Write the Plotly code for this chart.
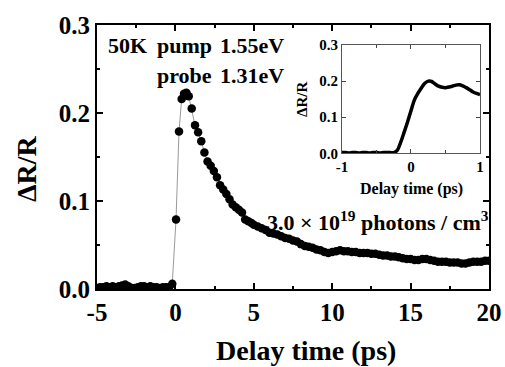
import plotly.graph_objects as go

# ---- main trace: delay (ps) vs dR/R ----
main_x = [-5.0, -4.8, -4.6, -4.4, -4.2, -4.0, -3.8, -3.6, -3.4, -3.2, -3.0, -2.8,
          -2.6, -2.4, -2.2, -2.0, -1.8, -1.6, -1.4, -1.2, -1.0, -0.8, -0.6, -0.4,
          -0.2, 0.04, 0.23, 0.40, 0.55, 0.70, 0.85, 1.04, 1.25, 1.45, 1.65, 1.85,
          2.05, 2.25, 2.45, 2.65, 2.85, 3.05, 3.25, 3.45, 3.65, 3.85, 4.05, 4.25,
          4.45, 4.65, 4.85,
          5.00, 5.25, 5.50, 5.75, 6.00, 6.25, 6.50, 6.75, 7.00, 7.25, 7.50, 7.75,
          8.00, 8.25, 8.50, 8.75, 9.00, 9.25, 9.50, 9.75, 10.00, 10.25, 10.50, 10.75,
          11.00, 11.25, 11.50, 11.75, 12.00, 12.25, 12.50, 12.75, 13.00, 13.25, 13.50,
          13.75, 14.00, 14.25, 14.50, 14.75, 15.00, 15.25, 15.50, 15.75, 16.00, 16.25,
          16.50, 16.75, 17.00, 17.25, 17.50, 17.75, 18.00, 18.25, 18.50, 18.75, 19.00,
          19.25, 19.50, 19.75, 20.00]
main_y = [0.001, 0.002, 0.002, 0.003, 0.002, 0.003, 0.002, 0.003, 0.004, 0.005, 0.003, 0.001,
          0.001, 0.002, 0.003, 0.003, 0.002, 0.003, 0.002, 0.002, 0.001, 0.002, 0.002, 0.002,
          0.006, 0.079, 0.179, 0.216, 0.222, 0.223, 0.219, 0.205, 0.186, 0.178, 0.168, 0.155,
          0.145, 0.140, 0.134, 0.127, 0.118, 0.113, 0.108, 0.102, 0.096, 0.093, 0.090, 0.087,
          0.079, 0.077, 0.075,
          0.073, 0.071, 0.069, 0.067, 0.064, 0.063, 0.062, 0.060, 0.058, 0.057, 0.055, 0.054,
          0.051, 0.049, 0.048, 0.047, 0.045, 0.044, 0.042, 0.041, 0.042, 0.043, 0.044, 0.043,
          0.043, 0.042, 0.042, 0.041, 0.041, 0.041, 0.040, 0.040, 0.039, 0.038, 0.038,
          0.037, 0.037, 0.036, 0.035, 0.034, 0.034, 0.033, 0.033, 0.034, 0.034, 0.033,
          0.032, 0.031, 0.031, 0.031, 0.030, 0.030, 0.030, 0.029, 0.029, 0.030, 0.031,
          0.031, 0.031, 0.032, 0.032]

# ---- inset trace ----
inset_x = [-1.00, -0.95, -0.90, -0.85, -0.80, -0.75, -0.70, -0.65, -0.60, -0.55, -0.50,
           -0.45, -0.40, -0.35, -0.30, -0.25, -0.20, -0.15, -0.10, -0.05, 0.00, 0.05,
           0.10, 0.15, 0.20, 0.25, 0.30, 0.35, 0.40, 0.45, 0.50, 0.55, 0.60, 0.65,
           0.70, 0.75, 0.80, 0.85, 0.90, 0.95, 1.00]
inset_y = [0.002, 0.002, 0.001, 0.002, 0.002, 0.001, 0.002, 0.002, 0.001, 0.002, 0.002,
           0.001, 0.002, 0.002, 0.002, 0.002, 0.008, 0.030, 0.058, 0.087, 0.118, 0.148,
           0.166, 0.181, 0.194, 0.200, 0.199, 0.192, 0.186, 0.183, 0.182, 0.184, 0.186, 0.189,
           0.190, 0.187, 0.182, 0.176, 0.170, 0.166, 0.163]

main_xticks = [-5, 0, 5, 10, 15, 20]
main_yticks = [0.0, 0.1, 0.2, 0.3]
inset_xticks = [-1, 0, 1]
inset_yticks = [0.0, 0.1, 0.2, 0.3]

FONT = "Liberation Serif"

fig = go.Figure()
fig.add_trace(go.Scatter(
    x=main_x, y=main_y, mode="lines+markers",
    line=dict(color="#9a9a9a", width=1),
    marker=dict(color="black", size=8.5),
    xaxis="x", yaxis="y", showlegend=False))
fig.add_trace(go.Scatter(
    x=inset_x, y=inset_y, mode="lines",
    line=dict(color="black", width=3.5, shape="spline"),
    xaxis="x2", yaxis="y2", showlegend=False))

tickfont_main = dict(family=FONT, size=25, color="black", weight="bold")
tickfont_inset = dict(family=FONT, size=15, color="black", weight="bold")

fig.update_layout(
    template="none",
    width=505, height=367,
    margin=dict(l=97, r=16, t=25, b=78, autoexpand=False),
    paper_bgcolor="white", plot_bgcolor="white",
    font=dict(family=FONT, color="black"),
    xaxis=dict(range=[-5, 20], tickvals=main_xticks, ticktext=[str(v) for v in main_xticks],
               ticks="inside", ticklen=6, tickwidth=1.5, tickcolor="black",
               showline=True, linewidth=2, linecolor="black", mirror="ticks",
               showgrid=False, zeroline=False, tickfont=tickfont_main, automargin=False,
               minor=dict(ticks="inside", ticklen=3, tickwidth=1.5, tickcolor="black",
                          dtick=2.5, tick0=-5, showgrid=False)),
    yaxis=dict(range=[0, 0.3], tickvals=main_yticks, ticktext=["%.1f" % v for v in main_yticks],
               ticks="inside", ticklen=6, tickwidth=1.5, tickcolor="black",
               showline=True, linewidth=2, linecolor="black", mirror="ticks",
               showgrid=False, zeroline=False, tickfont=tickfont_main, automargin=False,
               minor=dict(ticks="inside", ticklen=3, tickwidth=1.5, tickcolor="black",
                          dtick=0.05, tick0=0, showgrid=False)),
    xaxis2=dict(domain=[0.625, 0.977], anchor="y2", range=[-1, 1],
                tickvals=inset_xticks, ticktext=[str(v) for v in inset_xticks],
                ticks="inside", ticklen=4, tickwidth=1, tickcolor="#444",
                showline=True, linewidth=1.2, linecolor="#555", mirror="ticks",
                showgrid=False, zeroline=False, tickfont=tickfont_inset, automargin=False,
                minor=dict(ticks="inside", ticklen=3, tickwidth=1, tickcolor="#444",
                           dtick=0.5, tick0=-1, showgrid=False)),
    yaxis2=dict(domain=[0.514, 0.924], anchor="x2", range=[0, 0.3],
                tickvals=inset_yticks, ticktext=["%.1f" % v for v in inset_yticks],
                ticks="inside", ticklen=4, tickwidth=1, tickcolor="#444",
                showline=True, linewidth=1.2, linecolor="#555", mirror="ticks",
                showgrid=False, zeroline=False, tickfont=tickfont_inset, automargin=False),
)

def ann(text, x, y, size, xanchor="left", xref="x", yref="y", angle=0):
    fig.add_annotation(text="<b>%s</b>" % text, x=x, y=y, xref=xref, yref=yref,
                       xanchor=xanchor, yanchor="middle", showarrow=False,
                       textangle=angle, font=dict(family=FONT, size=size, color="black"))

def px2x(px):
    return (px - 97) / 392 * 25 - 5

def py2y(py):
    return (289 - py) / 264 * 0.3

ann("50K", px2x(106), py2y(45), 22)
ann("pump", px2x(155), py2y(45), 22)
ann("1.55eV", px2x(218), py2y(45), 22)
ann("probe", px2x(155), py2y(75), 22)
ann("1.31eV", px2x(218), py2y(75), 22)
ann("3.0 × 10<sup>19</sup> photons / cm<sup>3</sup>", px2x(265), py2y(221), 22)

# axis titles
ann("ΔR/R", (26 - 97) / 392, (289 - 169) / 264, 28, xanchor="center",
    xref="paper", yref="paper", angle=-90)
ann("Delay time (ps)", (306 - 97) / 392, (289 - 350) / 264, 28, xanchor="center",
    xref="paper", yref="paper")
ann("ΔR/R", (302 - 97) / 392, (289 - 100) / 264, 15, xanchor="center",
    xref="paper", yref="paper", angle=-90)
ann("Delay time (ps)", (411 - 97) / 392, (289 - 189) / 264, 16, xanchor="center",
    xref="paper", yref="paper")

# remove the default page margin so the figure fills the window exactly
fig.write_html("out.html",
               config={"displayModeBar": False},
               post_script="document.body.style.margin='0';"
                           "document.body.style.overflow='hidden';")
